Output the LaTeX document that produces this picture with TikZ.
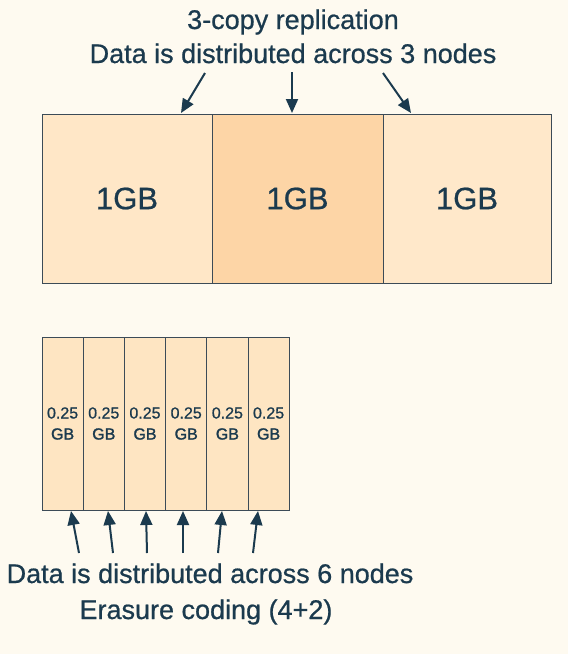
\documentclass[tikz,border=0pt]{standalone}
\usepackage{fontspec}
\setmainfont{Liberation Sans}[BoldFont=Liberation Sans,BoldFeatures={FakeBold=0.7}]
\newfontfamily\heavyfont{Liberation Sans}[BoldFont=Liberation Sans,BoldFeatures={FakeBold=1.6}]
\usetikzlibrary{arrows.meta}
\definecolor{bg}{HTML}{FEFAF0}
\definecolor{ink}{HTML}{1B3A4E}
\definecolor{edge}{HTML}{3C4B57}
\definecolor{fillA}{HTML}{FFE7C7}
\definecolor{fillB}{HTML}{FDD5A6}
\definecolor{fillC}{HTML}{FFE8CA}
\definecolor{fillS}{HTML}{FEE5C2}
\begin{document}
\begin{tikzpicture}[x=1pt,y=-1pt,
  bigbox/.style={draw=edge,line width=1pt,inner sep=0pt,outer sep=0pt,minimum height=169pt,text=ink,font=\fontsize{31}{36}\selectfont\bfseries},
  smallbox/.style={draw=edge,line width=1pt,inner sep=0pt,outer sep=0pt,minimum width=41.2pt,minimum height=173pt,fill=fillS,text=ink,font=\fontsize{16}{21}\selectfont\bfseries,align=center},
  titletext/.style={text=ink,font=\fontsize{27}{34}\selectfont\bfseries,inner sep=0pt,anchor=base},
  arr/.style={draw=ink,line width=2pt,-{Triangle[length=14pt,width=12pt]}}]
\fill[bg] (0,0) rectangle (568,654);
\useasboundingbox (0,0) rectangle (568,654);
% titles
\node[titletext] (t1) at (293,29) {3-copy replication};
\node[titletext] (t2) at (293,63) {Data is distributed across 3 nodes};
% big boxes
\node[bigbox,fill=fillA,minimum width=170pt] (b1) at (127,198.5) {1GB};
\node[bigbox,fill=fillB,minimum width=171pt] (b2) at (297.5,198.5) {1GB};
\node[bigbox,fill=fillC,minimum width=168pt] (b3) at (467,198.5) {1GB};
% top arrows
\coordinate (a1s) at (205,73);
\coordinate (a1e) at (181,113);
\coordinate (a2s) at (292,72);
\coordinate (a2e) at (292,113);
\coordinate (a3s) at (383,73);
\coordinate (a3e) at (411,113);
\draw[arr] (a1s) -- (a1e);
\draw[arr] (a2s) -- (a2e);
\draw[arr] (a3s) -- (a3e);
% small boxes
\node[smallbox] (s1) at (62.6,423.5) {0.25\\{\heavyfont\bfseries GB}};
\node[smallbox] (s2) at (103.8,423.5) {0.25\\{\heavyfont\bfseries GB}};
\node[smallbox] (s3) at (145.0,423.5) {0.25\\{\heavyfont\bfseries GB}};
\node[smallbox] (s4) at (186.2,423.5) {0.25\\{\heavyfont\bfseries GB}};
\node[smallbox] (s5) at (227.4,423.5) {0.25\\{\heavyfont\bfseries GB}};
\node[smallbox] (s6) at (268.6,423.5) {0.25\\{\heavyfont\bfseries GB}};
% bottom arrows
\coordinate (c1s) at (79,553);  \coordinate (c1e) at (71,511);
\coordinate (c2s) at (113,553); \coordinate (c2e) at (108,511);
\coordinate (c3s) at (147,553); \coordinate (c3e) at (146,511);
\coordinate (c4s) at (183,553); \coordinate (c4e) at (183,511);
\coordinate (c5s) at (218,553); \coordinate (c5e) at (222,511);
\coordinate (c6s) at (253,553); \coordinate (c6e) at (258,511);
\foreach \i in {1,...,6} {\draw[arr] (c\i s) -- (c\i e);}
% bottom texts
\node[titletext] (t3) at (210,583) {Data is distributed across 6 nodes};
\node[titletext] (t4) at (206,619) {Erasure coding (4+2)};
\end{tikzpicture}
\end{document}
